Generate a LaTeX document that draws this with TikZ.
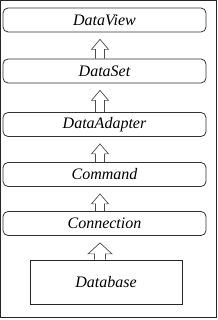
\documentclass[tikz,border=0pt]{standalone}
\usepackage{fontspec}
\setmainfont{Liberation Serif}
\usetikzlibrary{calc}
\tikzset{
  layer/.style={draw=black!80, line width=0.8pt, rounded corners=5pt,
    minimum width=203pt, minimum height=24pt, inner sep=0pt,
    font=\fontsize{16}{18}\selectfont\itshape},
  dbbox/.style={draw=black!85, line width=0.8pt,
    minimum width=152pt, minimum height=44pt, inner sep=0pt,
    font=\fontsize{16}{18}\selectfont\itshape},
  barrow/.style={draw=black!70, line width=0.7pt, line join=miter}
}
\newcommand\blockup[5]{% from, to, shaft half, head half, head height
  \draw[barrow] let \p1=(#1.north), \p2=(#2.south) in
    (100pt-#3pt,\y1) -- (100pt-#3pt,\y2-7pt-#5pt) -- (100pt-#4pt,\y2-7pt-#5pt)
    -- (100pt,\y2-7pt) -- (100pt+#4pt,\y2-7pt-#5pt) -- (100pt+#3pt,\y2-7pt-#5pt)
    -- (100pt+#3pt,\y1);
}
\begin{document}
\begin{tikzpicture}[x=1pt,y=1pt]
  \useasboundingbox (0,0) rectangle (217,320);
  \draw[black!85, line width=0.9pt] (0.7,2.5) rectangle (216.3,319.3);
  \node[layer] (view) at (104.5,300) {DataView};
  \node[layer] (set) at (104.5,249) {DataSet};
  \node[layer] (adapter) at (104.5,195.5) {DataAdapter};
  \node[layer] (command) at (104.5,145.5) {Command};
  \node[layer] (conn) at (104.5,96.5) {Connection};
  \node[dbbox] (db) at (106,38) {Database};
  \blockup{set}{view}{4.5}{8.5}{10}
  \blockup{adapter}{set}{4.5}{8.5}{10}
  \blockup{command}{adapter}{4.5}{8.5}{10}
  \blockup{conn}{command}{4.5}{8.5}{10}
  \blockup{db}{conn}{5.5}{12}{11}
\end{tikzpicture}
\end{document}
